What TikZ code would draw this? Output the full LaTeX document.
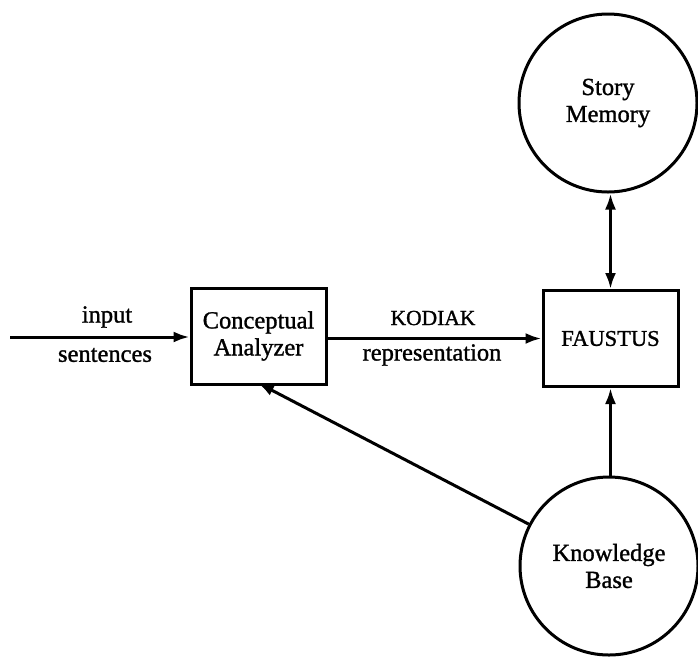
\documentclass[tikz,border=0pt]{standalone}
\usepackage{fontspec}
\setmainfont{Liberation Serif}[BoldFont=Liberation Serif,BoldFeatures={FakeBold=1.2}]
\usetikzlibrary{arrows.meta}
\begin{document}
\begin{tikzpicture}[x=1pt,y=-1pt,
  every node/.style={font=\bfseries\fontsize{24.5}{27}\selectfont},
  box/.style={draw,line width=3pt,minimum width=135pt,minimum height=96pt,inner sep=0pt,align=center},
  store/.style={draw,circle,line width=3pt,minimum size=178pt,inner sep=0pt,align=center},
  tip/.style={Latex[length=16pt,width=11pt]},
  link/.style={line width=3pt,-{Latex[length=16pt,width=11pt]}},
  lbl/.style={inner sep=0pt,align=center}]
\useasboundingbox (0,0) rectangle (698,657);
\node[box] (ca) at (258.5,336) {Conceptual\\Analyzer};
\node[box] (fa) at (610.5,338.5) {\fontsize{22.5}{25}\selectfont FAUSTUS};
\node[store] (sm) at (608,103) {Story\\Memory};
\node[store] (kb) at (609,566) {Knowledge\\Base};
\coordinate (in) at (10,337);
\coordinate (cab) at (258,383);
\draw[link] (in) -- (ca.west |- in);
\node[lbl] at (107,317) {input};
\node[lbl] at (105,355) {sentences};
\draw[link] (ca.east |- fa) -- (fa.west);
\node[lbl] at (433,318) {\fontsize{21.5}{24}\selectfont KODIAK};
\node[lbl] at (432,355) {representation};
\draw[line width=3pt,{Latex[length=16pt,width=11pt]}-{Latex[length=16pt,width=11pt]}] (sm.south -| fa) -- (fa.north);
\draw[link] (kb.north -| fa) -- (fa.south);
\draw[link] (kb) -- (cab);
\end{tikzpicture}
\end{document}
